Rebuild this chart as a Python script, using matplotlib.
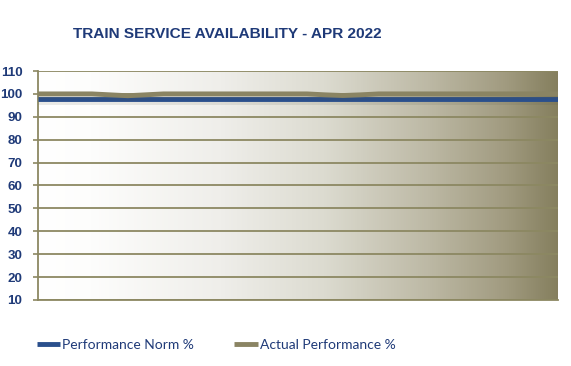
import matplotlib
matplotlib.use("Agg")
import matplotlib.pyplot as plt
import numpy as np
from matplotlib.colors import LinearSegmentedColormap
import matplotlib.patheffects as pe

days = list(range(1, 31))
norm = [97.8] * 30
actual = [100, 100, 100, 100, 99.6, 99.2, 99.6, 100, 100, 100,
          100, 100, 100, 100, 100, 100, 99.6, 99.3, 99.6, 100,
          100, 100, 100, 100, 100, 100, 100, 100, 100, 100]
yticks = list(range(10, 111, 10))
title = "TRAIN SERVICE AVAILABILITY - APR 2022"
labels = ["Performance Norm %", "Actual Performance %"]

navy = "#1f3a78"
blue = "#2a4f8c"
olive = "#8a8463"
grid_c = "#8c8862"

fig = plt.figure(figsize=(5.71, 3.66), dpi=100)
fig.patch.set_facecolor("white")
ax = fig.add_axes([38/571, (366-300)/366, (558-38)/571, (300-71)/366])

cmap = LinearSegmentedColormap.from_list("g", [
    (0.0, "#ffffff"), (0.1, "#fdfdfc"), (0.35, "#efeeea"),
    (0.55, "#dcdbd0"), (0.75, "#bdb9a5"), (0.9, "#a19b80"), (1.0, "#857f5e")])
grad = np.linspace(0, 1, 512).reshape(1, -1)
ax.imshow(grad, cmap=cmap, aspect="auto", extent=(0, 1, 0, 1),
          transform=ax.transAxes, zorder=0)

x = np.arange(len(days))
shadow = [pe.SimpleLineShadow(offset=(0, -2), shadow_color="#555540", alpha=0.12), pe.Normal()]
ax.plot(x, norm, color=blue, lw=3.5, solid_capstyle="butt", zorder=3,
        label=labels[0], path_effects=shadow)
ax.plot(x, actual, color=olive, lw=3.5, solid_capstyle="butt", zorder=4,
        label=labels[1], path_effects=shadow)

ax.set_xlim(0, len(days) - 1)
ax.set_ylim(10, 110)
ax.set_yticks(yticks)
ax.set_xticks([])
ax.yaxis.grid(True, color=grid_c, lw=1.3, zorder=1)
ax.set_axisbelow(True)
for s in ["top", "right"]:
    ax.spines[s].set_visible(False)
ax.spines["left"].set_color(grid_c)
ax.spines["left"].set_linewidth(1.3)
ax.spines["bottom"].set_color(grid_c)
ax.spines["bottom"].set_linewidth(1.3)
ax.tick_params(axis="y", colors=grid_c, length=3.6, width=1.2, pad=7.6)
for t in ax.get_yticklabels():
    t.set_color(navy)
    t.set_fontfamily("Liberation Sans")
    t.set_fontweight("bold")
    t.set_fontsize(9.6)

fig.text(73/571, 1 - 34/366, title, color=navy, fontsize=11.1,
         fontweight="bold", family="Liberation Sans", va="center", ha="left")

leg = fig.legend(loc="center left", bbox_to_anchor=(24/571, 1 - 345/366), ncol=2,
                 frameon=False, handlelength=1.7, handletextpad=0.15,
                 columnspacing=2.9, prop={"family": "Lato", "size": 10})
for t in leg.get_texts():
    t.set_color(navy)
for h in leg.get_lines():
    h.set_linewidth(3.5)
    h.set_path_effects([])

fig.savefig("out.png", dpi=100)
